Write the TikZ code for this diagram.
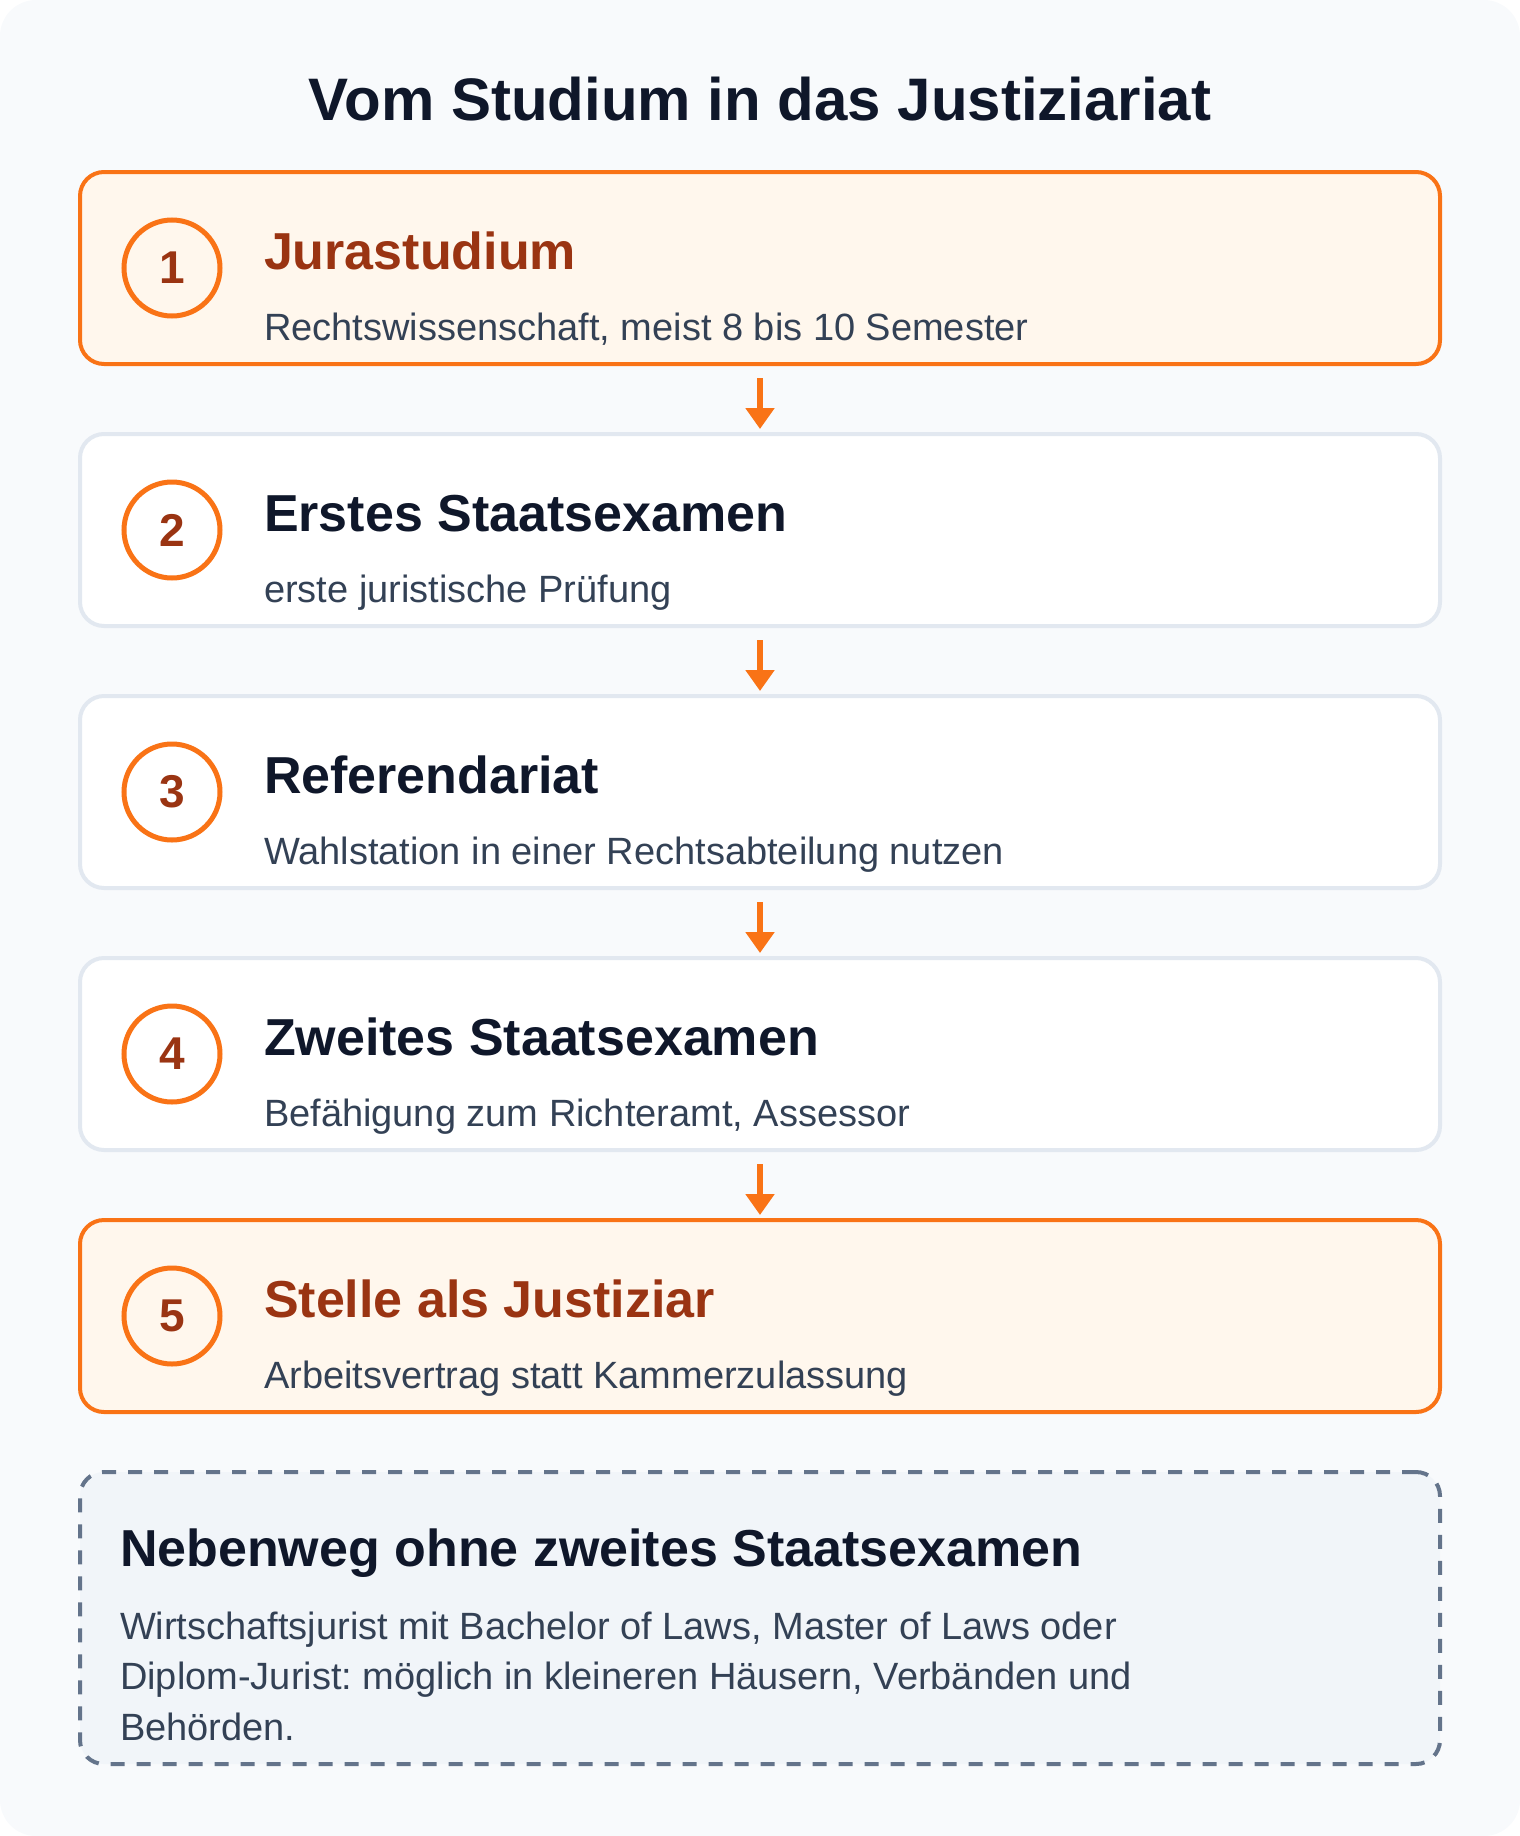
\documentclass[tikz,border=0pt]{standalone}
\usepackage{fontspec}
\setmainfont{Liberation Sans}
\setsansfont{Liberation Sans}
\usetikzlibrary{arrows.meta,positioning,backgrounds}
\definecolor{ink}{HTML}{0F172A}
\definecolor{slate}{HTML}{334155}
\definecolor{accent}{HTML}{F97316}
\definecolor{accentbg}{HTML}{FFF7ED}
\definecolor{rust}{HTML}{9A3412}
\definecolor{rim}{HTML}{E2E8F0}
\definecolor{paper}{HTML}{F8FAFC}
\definecolor{sidefill}{HTML}{F1F5F9}
\definecolor{sideline}{HTML}{64748B}
\frenchspacing

\begin{document}
\begin{tikzpicture}
				[x=1pt, y=-1pt, font=\sffamily, inner sep=0pt, outer sep=0pt,
				stage/.style		= {draw=rim, line width=2pt, fill=white, rounded corners=12pt, minimum width=680pt, minimum height=96pt},
				keystage/.style		= {stage, draw=accent, fill=accentbg},
				sidebox/.style		= {draw=sideline, line width=2pt, fill=sidefill, rounded corners=12pt, dash pattern=on 7pt off 6pt, minimum width=680pt, minimum height=146pt},
				badge/.style		= {circle, draw=accent, line width=2.5pt, fill=white, minimum size=48pt, text=rust, font=\fontsize{23}{27}\selectfont\bfseries},
				heading/.style		= {anchor=base west, text=ink, font=\fontsize{26}{31}\selectfont\bfseries},
				note/.style			= {anchor=base west, text=slate, font=\fontsize{19}{25}\selectfont},
				flow/.style			= {draw=accent, line width=3pt, -{Triangle[width=14pt,length=10.5pt]}}]
				
				\useasboundingbox (0,0) rectangle (760,918);
				
				\node [anchor=base, text=ink, font=\fontsize{30}{36}\selectfont\bfseries] at (380,60) (title) {Vom Studium in das Justiziariat};
				
				\node [keystage]	at (380,134)				(s1) {};
				\node [stage]		[below = 35pt of s1]		(s2) {};
				\node [stage]		[below = 35pt of s2]		(s3) {};
				\node [stage]		[below = 35pt of s3]		(s4) {};
				\node [keystage]	[below = 35pt of s4]		(s5) {};
				\node [sidebox]		[below = 30pt of s5]		(side) {};
				
				\node [badge, fill=accentbg]	at ([xshift=46pt]s1.west)	(n1) {1};
				\node [badge]					at ([xshift=46pt]s2.west)	(n2) {2};
				\node [badge]					at ([xshift=46pt]s3.west)	(n3) {3};
				\node [badge]					at ([xshift=46pt]s4.west)	(n4) {4};
				\node [badge, fill=accentbg]	at ([xshift=46pt]s5.west)	(n5) {5};
				
				\node [heading, text=rust]	at ([xshift=92pt,yshift=-0.5pt]s1.west)	(t1) {Jurastudium};
				\node [note]				at ([xshift=92pt,yshift=-36pt]s1.west)	(d1) {Rechtswissenschaft, meist 8 bis 10 Semester};
				\node [heading]				at ([xshift=92pt,yshift=-0.5pt]s2.west)	(t2) {Erstes Staatsexamen};
				\node [note]				at ([xshift=92pt,yshift=-36pt]s2.west)	(d2) {erste juristische Prüfung};
				\node [heading]				at ([xshift=92pt,yshift=-0.5pt]s3.west)	(t3) {Referendariat};
				\node [note]				at ([xshift=92pt,yshift=-36pt]s3.west)	(d3) {Wahlstation in einer Rechtsabteilung nutzen};
				\node [heading]				at ([xshift=92pt,yshift=-0.5pt]s4.west)	(t4) {Zweites Staatsexamen};
				\node [note]				at ([xshift=92pt,yshift=-36pt]s4.west)	(d4) {Befähigung zum Richteramt, Assessor};
				\node [heading, text=rust]	at ([xshift=92pt,yshift=-0.5pt]s5.west)	(t5) {Stelle als Justiziar};
				\node [note]				at ([xshift=92pt,yshift=-36pt]s5.west)	(d5) {Arbeitsvertrag statt Kammerzulassung};
				
				\node [heading]	at ([xshift=20pt,yshift=-47.4pt]side.north west)	(st) {Nebenweg ohne zweites Staatsexamen};
				\node [note]	at ([xshift=20pt,yshift=-83.6pt]side.north west)	(sd1) {Wirtschaftsjurist mit Bachelor of Laws, Master of Laws oder};
				\node [note]	at ([yshift=-25.2pt]sd1.base west)					(sd2) {Diplom-Jurist: möglich in kleineren Häusern, Verbänden und};
				\node [note]	at ([yshift=-25.2pt]sd2.base west)					(sd3) {Behörden.};
				
				\draw [flow] ([yshift=-7pt]s1.south) -- ([yshift=2.5pt]s2.north);
				\draw [flow] ([yshift=-7pt]s2.south) -- ([yshift=2.5pt]s3.north);
				\draw [flow] ([yshift=-7pt]s3.south) -- ([yshift=2.5pt]s4.north);
				\draw [flow] ([yshift=-7pt]s4.south) -- ([yshift=2.5pt]s5.north);
				
				\begin{scope}[on background layer]
				\fill [paper, rounded corners=18pt] (0,0) rectangle (760,918);
				\end{scope}
\end{tikzpicture}
\end{document}
